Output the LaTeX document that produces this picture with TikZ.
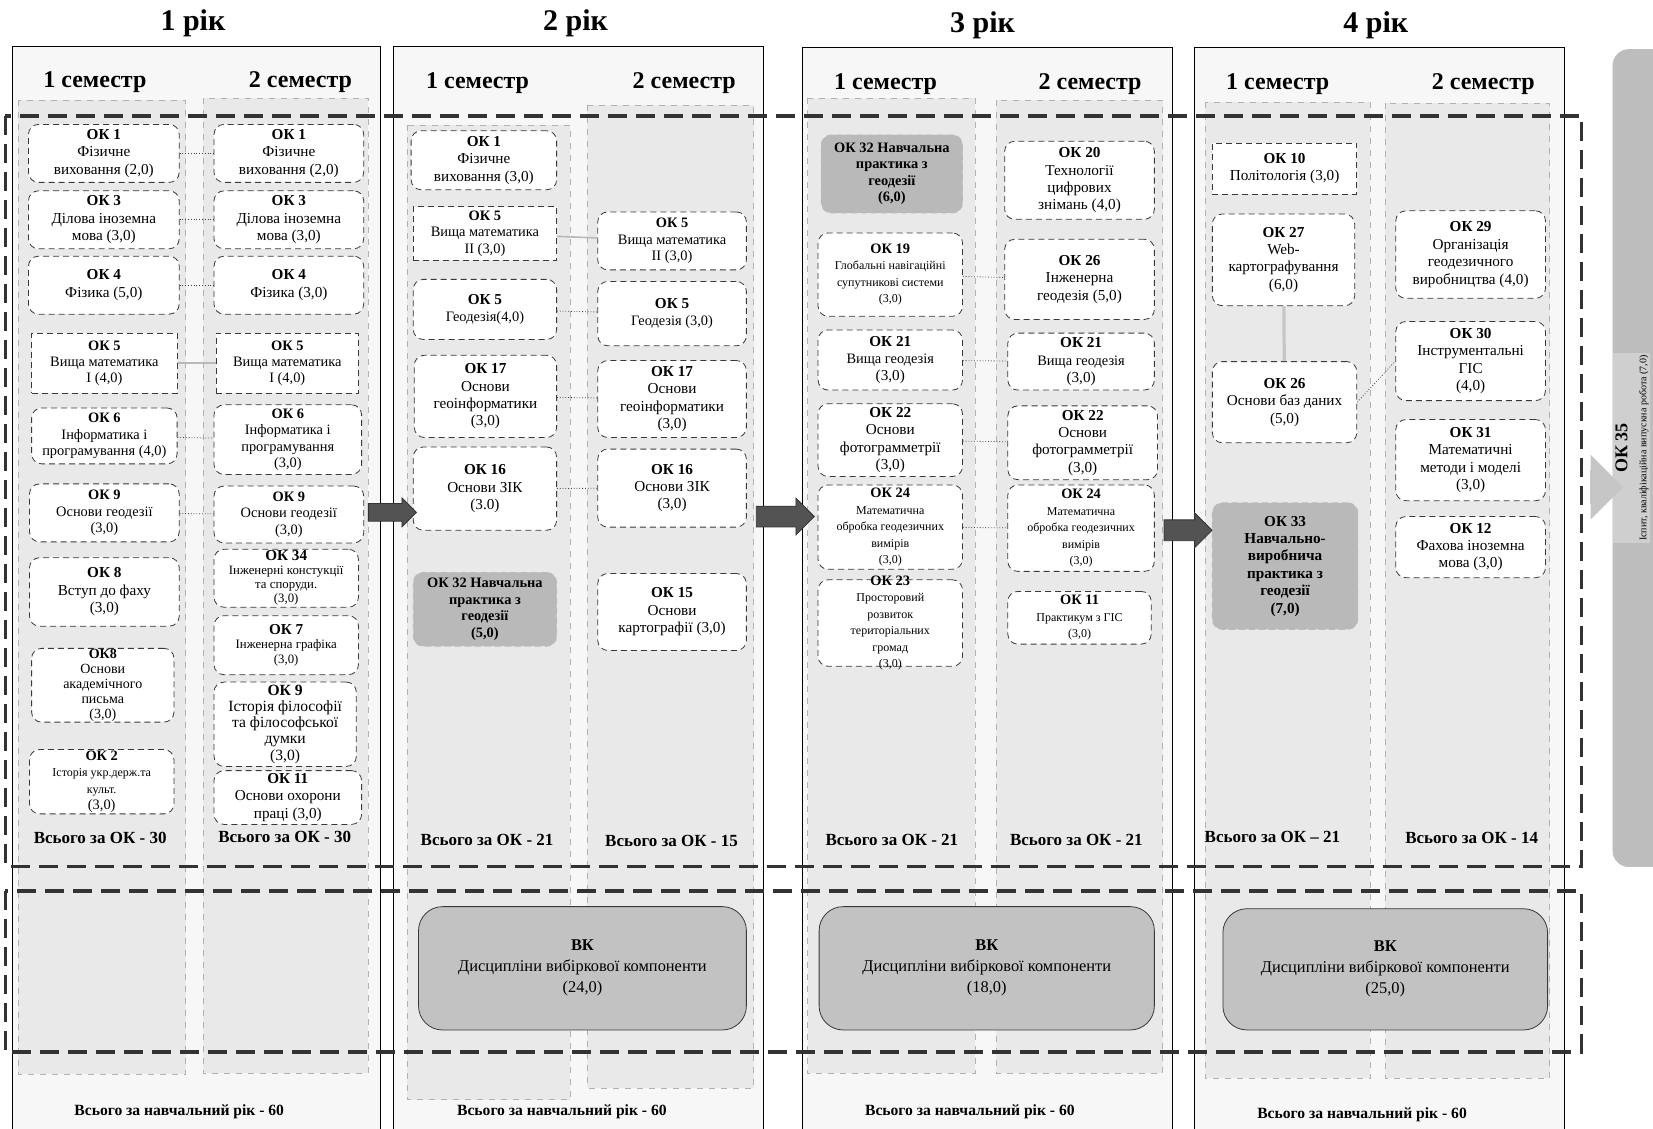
\documentclass[tikz,border=0pt]{standalone}
\usepackage{fontspec}
\setmainfont{Liberation Serif}
\usepackage{tikz}
\usetikzlibrary{fit,shapes.arrows}

\newcommand{\smalltxt}{\fontsize{6}{6.8}\selectfont}
\newcommand{\midtxt}{\fontsize{7.2}{8.2}\selectfont}

\begin{document}
\begin{tikzpicture}[x=0.5271pt,y=-0.5271pt,
  yearframe/.style={draw=black,thin,fill=gray!6},
  semcol/.style={draw=gray!60,dashed,fill=gray!17},
  bigdash/.style={draw=black!80,line width=1.7pt,dash pattern=on 9.5pt off 4.5pt},
  boxtext/.style={align=center,inner sep=0pt,font=\fontsize{7.6}{8.7}\selectfont},
  midtext/.style={boxtext,font=\midtxt},
  okbox/.style={draw=gray!45!black,densely dashed,fill=white,rounded corners=5pt,inner sep=0pt},
  sqbox/.style={okbox,rounded corners=0pt},
  pract/.style={okbox,draw=gray!55,fill=gray!55},
  vkbox/.style={draw=gray!45!black,fill=gray!48,rounded corners=12pt,inner sep=0pt},
  vktext/.style={align=center,font=\fontsize{8.2}{10.5}\selectfont},
  link/.style={densely dotted,gray!50!black,thin},
  blockarrow/.style={single arrow,fill=gray!65!black,draw=gray!40!black,inner xsep=0pt},
  yeartitle/.style={font=\fontsize{15}{18}\selectfont\bfseries},
  semtitle/.style={font=\fontsize{12}{14}\selectfont\bfseries},
  total/.style={font=\fontsize{8.5}{10}\selectfont\bfseries},
  yeartotal/.style={font=\fontsize{7.8}{9}\selectfont\bfseries}]

% page
\fill[white] (0,0) rectangle (1568,1070);
\useasboundingbox (0,0) rectangle (1568,1070);

% year frames
\filldraw[yearframe] (12,1080) |- (361,44) -- (361,1080);
\filldraw[yearframe] (373,1080) |- (724,44) -- (724,1080);
\filldraw[yearframe] (761,1080) |- (1112,45) -- (1112,1080);
\filldraw[yearframe] (1133,1080) |- (1484,45) -- (1484,1080);

% semester columns
\draw[semcol] (17,95) rectangle (176,1019);
\draw[semcol] (193,93) rectangle (349,1018);
\draw[semcol] (386,119) rectangle (541,1043);
\draw[semcol] (557,100) rectangle (715,1032);
\draw[semcol] (766,93) rectangle (925,1018);
\draw[semcol] (945,95) rectangle (1103,1018);
\draw[semcol] (1143,97) rectangle (1300,1023);
\draw[semcol] (1314,98) rectangle (1470,1023);

% OK and VK areas
\draw[bigdash] (5,110) rectangle (1500,822);
\draw[bigdash] (5,845) rectangle (1500,998);

% titles
\node[yeartitle] (yr1) at (183,22) {1 рік};
\node[yeartitle] (yr2) at (546,22) {2 рік};
\node[yeartitle] (yr3) at (932,24) {3 рік};
\node[yeartitle] (yr4) at (1305,24) {4 рік};

\node[semtitle] (s11) at (90,78) {1 семестр};
\node[semtitle] (s12) at (285,78) {2 семестр};
\node[semtitle] (s21) at (453,79) {1 семестр};
\node[semtitle] (s22) at (649,79) {2 семестр};
\node[semtitle] (s31) at (840,80) {1 семестр};
\node[semtitle] (s32) at (1034,80) {2 семестр};
\node[semtitle] (s41) at (1212,80) {1 семестр};
\node[semtitle] (s42) at (1407,80) {2 семестр};

% 1 year, 1 semester
\node[okbox,fit={(27,118)(170,173)},label={[boxtext]center:{\textbf{ОК 1}\\Фізичне\\виховання (2,0)}}] (a1) {};
\node[okbox,fit={(27,181)(170,236)},label={[boxtext]center:{\textbf{ОК 3}\\Ділова іноземна\\мова (3,0)}}] (a3) {};
\node[okbox,fit={(27,243)(170,298)},label={[boxtext]center:{\textbf{ОК 4}\\Фізика (5,0)}}] (a4) {};
\node[sqbox,fit={(30,316)(168,373)},label={[midtext]center:{\textbf{ОК 5}\\Вища математика\\I (4,0)}}] (a5) {};
\node[okbox,fit={(30,387)(168,440)},label={[midtext]center:{\textbf{ОК 6}\\Інформатика і\\програмування (4,0)}}] (a6) {};
\node[okbox,fit={(28,459)(170,514)},label={[midtext]center:{\textbf{ОК 9}\\Основи геодезії\\(3,0)}}] (a9) {};
\node[okbox,fit={(28,529)(170,594)},label={[boxtext]center:{\textbf{ОК 8}\\Вступ до фаху\\(3,0)}}] (a8) {};
\node[okbox,fit={(30,615)(165,685)},label={[boxtext,font=\fontsize{7}{7.5}\selectfont]center:{\textbf{ОК8}\\Основи\\академічного\\письма\\(3,0)}}] (a8b) {};
\node[okbox,fit={(28,711)(165,772)},label={[midtext]center:{\textbf{ОК 2}\\{\smalltxt Історія укр.держ.та}\\{\smalltxt культ.}\\(3,0)}}] (a2) {};

% 1 year, 2 semester
\node[okbox,fit={(203,118)(345,173)},label={[boxtext]center:{\textbf{ОК 1}\\Фізичне\\виховання (2,0)}}] (b1) {};
\node[okbox,fit={(203,181)(345,236)},label={[boxtext]center:{\textbf{ОК 3}\\Ділова іноземна\\мова (3,0)}}] (b3) {};
\node[okbox,fit={(203,243)(345,298)},label={[boxtext]center:{\textbf{ОК 4}\\Фізика (3,0)}}] (b4) {};
\node[sqbox,fit={(205,316)(340,373)},label={[midtext]center:{\textbf{ОК 5}\\Вища математика\\I (4,0)}}] (b5) {};
\node[okbox,fit={(203,384)(343,450)},label={[midtext]center:{\textbf{ОК 6}\\Інформатика і\\програмування\\(3,0)}}] (b6) {};
\node[okbox,fit={(203,461)(345,515)},label={[midtext]center:{\textbf{ОК 9}\\Основи геодезії\\(3,0)}}] (b9) {};
\node[okbox,fit={(203,521)(340,576)},label={[boxtext,font=\fontsize{6.4}{7}\selectfont]center:{\textbf{\fontsize{7.6}{8}\selectfont ОК 34}\\Інженерні констукції\\та споруди.\\(3,0)}}] (b34) {};
\node[okbox,fit={(203,584)(340,640)},label={[boxtext,font=\fontsize{6.4}{7.4}\selectfont]center:{\textbf{\fontsize{7.6}{8}\selectfont ОК 7}\\Інженерна графіка\\(3,0)}}] (b7) {};
\node[okbox,fit={(203,647)(338,727)},label={[boxtext,font=\fontsize{7.8}{8.1}\selectfont]center:{\textbf{ОК 9}\\Історія філософії\\та філософської\\думки\\(3,0)}}] (b9h) {};
\node[okbox,fit={(203,731)(343,782)},label={[boxtext]center:{\textbf{ОК 11}\\Основи охорони\\праці (3,0)}}] (b11) {};

% 2 year, 1 semester
\node[okbox,fit={(390,124)(528,180)},label={[boxtext]center:{\textbf{ОК 1}\\Фізичне\\виховання (3,0)}}] (c1) {};
\node[sqbox,fit={(392,196)(528,247)},label={[midtext]center:{\textbf{ОК 5}\\Вища математика\\II (3,0)}}] (c5) {};
\node[okbox,fit={(392,265)(528,322)},label={[boxtext]center:{\textbf{ОК 5}\\{\midtxt Геодезія(4,0)}}}] (c5g) {};
\node[okbox,fit={(393,337)(528,415)},label={[boxtext]center:{\textbf{ОК 17}\\Основи\\геоінформатики\\(3,0)}}] (c17) {};
\node[okbox,fit={(392,424)(528,503)},label={[boxtext]center:{\textbf{ОК 16}\\Основи ЗІК\\(3.0)}}] (c16) {};
\node[pract,fit={(392,543)(528,613)},label={[midtext]center:{\textbf{ОК 32 Навчальна}\\\textbf{практика з}\\\textbf{геодезії}\\\textbf{(5,0)}}}] (c32) {};

% 2 year, 2 semester
\node[okbox,fit={(567,201)(708,256)},label={[midtext]center:{\textbf{ОК 5}\\Вища математика\\II (3,0)}}] (d5) {};
\node[okbox,fit={(567,267)(708,328)},label={[boxtext]center:{\textbf{ОК 5}\\{\midtxt Геодезія (3,0)}}}] (d5g) {};
\node[okbox,fit={(567,342)(708,415)},label={[boxtext]center:{\textbf{ОК 17}\\Основи\\геоінформатики\\(3,0)}}] (d17) {};
\node[okbox,fit={(567,426)(708,500)},label={[boxtext]center:{\textbf{ОК 16}\\Основи ЗІК\\(3,0)}}] (d16) {};
\node[okbox,fit={(567,544)(708,617)},label={[boxtext]center:{\textbf{ОК 15}\\Основи\\картографії (3,0)}}] (d15) {};

% 3 year, 1 semester
\node[pract,fit={(779,128)(913,202)},label={[midtext]center:{\textbf{ОК 32 Навчальна}\\\textbf{практика з}\\\textbf{геодезії}\\\textbf{(6,0)}}}] (e32) {};
\node[okbox,fit={(776,221)(913,300)},label={[midtext]center:{\textbf{ОК 19}\\{\smalltxt Глобальні навігаційні}\\{\smalltxt супутникові системи}\\{\smalltxt (3,0)}}}] (e19) {};
\node[okbox,fit={(776,313)(913,370)},label={[boxtext]center:{\textbf{ОК 21}\\{\midtxt Вища геодезія}\\(3,0)}}] (e21) {};
\node[okbox,fit={(776,383)(913,452)},label={[boxtext]center:{\textbf{ОК 22}\\Основи\\фотограмметрії\\(3,0)}}] (e22) {};
\node[okbox,fit={(776,460)(913,540)},label={[midtext]center:{\textbf{ОК 24}\\{\smalltxt Математична}\\{\smalltxt обробка геодезичних}\\{\smalltxt вимірів}\\{\smalltxt (3,0)}}}] (e24) {};
\node[okbox,fit={(776,550)(913,632)},label={[midtext]center:{\textbf{ОК 23}\\{\smalltxt Просторовий}\\{\smalltxt розвиток}\\{\smalltxt територіальних}\\{\smalltxt громад}\\{\smalltxt (3,0)}}}] (e23) {};

% 3 year, 2 semester
\node[okbox,fit={(953,134)(1095,208)},label={[boxtext]center:{\textbf{ОК 20}\\Технології\\цифрових\\знімань (4,0)}}] (f20) {};
\node[okbox,fit={(953,227)(1095,303)},label={[boxtext]center:{\textbf{ОК 26}\\Інженерна\\геодезія (5,0)}}] (f26) {};
\node[okbox,fit={(956,316)(1095,370)},label={[boxtext]center:{\textbf{ОК 21}\\{\midtxt Вища геодезія}\\(3,0)}}] (f21) {};
\node[okbox,fit={(956,385)(1098,455)},label={[boxtext]center:{\textbf{ОК 22}\\Основи\\фотограмметрії\\(3,0)}}] (f22) {};
\node[okbox,fit={(956,460)(1095,542)},label={[midtext]center:{\textbf{ОК 24}\\{\smalltxt Математична}\\{\smalltxt обробка геодезичних}\\{\smalltxt вимірів}\\{\smalltxt (3,0)}}}] (f24) {};
\node[okbox,fit={(956,561)(1092,611)},label={[midtext]center:{\textbf{ОК 11}\\{\smalltxt Практикум з ГІС}\\{\smalltxt (3,0)}}}] (f11) {};

% 4 year, 1 semester
\node[sqbox,fit={(1150,136)(1287,184)},label={[boxtext]center:{\textbf{ОК 10}\\Політологія (3,0)}}] (g10) {};
\node[okbox,fit={(1150,203)(1285,290)},label={[boxtext]center:{\textbf{ОК 27}\\Web-\\картографування\\(6,0)}}] (g27) {};
\node[okbox,fit={(1150,343)(1287,420)},label={[boxtext]center:{\textbf{ОК 26}\\Основи баз даних\\(5,0)}}] (g26) {};
\node[pract,fit={(1150,477)(1288,597)},label={[boxtext]center:{\textbf{ОК 33}\\\textbf{Навчально-}\\\textbf{виробнича}\\\textbf{практика з}\\\textbf{геодезії}\\\textbf{(7,0)}}}] (g33) {};

% 4 year, 2 semester
\node[okbox,fit={(1324,200)(1466,283)},label={[boxtext]center:{\textbf{ОК 29}\\Організація\\геодезичного\\виробництва (4,0)}}] (h29) {};
\node[okbox,fit={(1324,305)(1466,380)},label={[boxtext]center:{\textbf{ОК 30}\\Інструментальні\\ГІС\\(4,0)}}] (h30) {};
\node[okbox,fit={(1324,398)(1466,475)},label={[boxtext]center:{\textbf{ОК 31}\\Математичні\\методи і моделі\\(3,0)}}] (h31) {};
\node[okbox,fit={(1324,490)(1466,548)},label={[boxtext]center:{\textbf{ОК 12}\\Фахова іноземна\\мова (3,0)}}] (h12) {};

% links between semesters
\draw[link] (a1) -- (b1);
\draw[link] (a3) -- (b3);
\draw[link] (a4) -- (b4);
\draw[gray!55,line width=0.8pt] (a5) -- (b5);
\draw[link] (a6) -- (b6);
\draw[link] (a9) -- (b9);
\draw[gray!55,line width=0.8pt] (c5) -- (d5);
\draw[link] (c5g) -- (d5g);
\draw[link] (c17) -- (d17);
\draw[link] (c16) -- (d16);
\draw[link] (e19) -- (f26);
\draw[link] (e21) -- (f21);
\draw[link] (e22) -- (f22);
\draw[link] (e24) -- (f24);
\draw[link] (g26.east) -- (h30.west);
\draw[gray!45,line width=1.6pt] (g27) -- (g26);

% totals
\node[total] (t11) at (95,795) {Всього за ОК - 30};
\node[total] (t12) at (270,794) {Всього за ОК - 30};
\node[total] (t21) at (462,797) {Всього за ОК - 21};
\node[total] (t22) at (637,798) {Всього за ОК - 15};
\node[total] (t31) at (846,797) {Всього за ОК - 21};
\node[total] (t32) at (1021,797) {Всього за ОК - 21};
\node[total] (t41) at (1207,794) {Всього за ОК – 21};
\node[total] (t42) at (1396,795) {Всього за ОК - 14};

% elective blocks
\node[vkbox,fit={(397,860)(708,977)},label={[vktext]center:{\textbf{ВК}\\Дисципліни вибіркової компоненти\\(24,0)}}] (vk2) {};
\node[vkbox,fit={(777,860)(1095,977)},label={[vktext]center:{\textbf{ВК}\\Дисципліни вибіркової компоненти\\(18,0)}}] (vk3) {};
\node[vkbox,fit={(1160,862)(1468,977)},label={[vktext]center:{\textbf{ВК}\\Дисципліни вибіркової компоненти\\(25,0)}}] (vk4) {};

\node[yeartotal] (ty1) at (170,1055) {Всього за навчальний рік - 60};
\node[yeartotal] (ty2) at (533,1055) {Всього за навчальний рік - 60};
\node[yeartotal] (ty3) at (920,1055) {Всього за навчальний рік - 60};
\node[yeartotal] (ty4) at (1292,1057) {Всього за навчальний рік - 60};

% final work
\node[draw=gray!50,fill=gray!52,rounded corners=8pt,inner sep=0pt,fit={(1530,47)(1600,822)}] (ok35) {};
\node[rotate=90,fill=gray!38,align=center,inner sep=1pt,font=\fontsize{9}{9.5}\selectfont] (ok35t) at (1548,425)
  {\textbf{ОК 35}\\{\fontsize{5}{6}\selectfont Іспит, кваліфікаційна випускна робота (7,0)}};

% arrows between years
\node[blockarrow,minimum height=24pt,inner ysep=4.2pt,single arrow head extend=2.8pt] (ar1) at (368,486) {};
\node[blockarrow,minimum height=29pt,inner ysep=5pt,single arrow head extend=4pt] (ar2) at (740,490) {};
\node[blockarrow,minimum height=24pt,inner ysep=5pt,single arrow head extend=3.5pt] (ar3) at (1122,503) {};
\node[blockarrow,fill=gray!45,draw=gray!45,minimum height=16pt,inner ysep=8pt,single arrow head extend=7.5pt] (ar4) at (1516,462) {};

\end{tikzpicture}
\end{document}
